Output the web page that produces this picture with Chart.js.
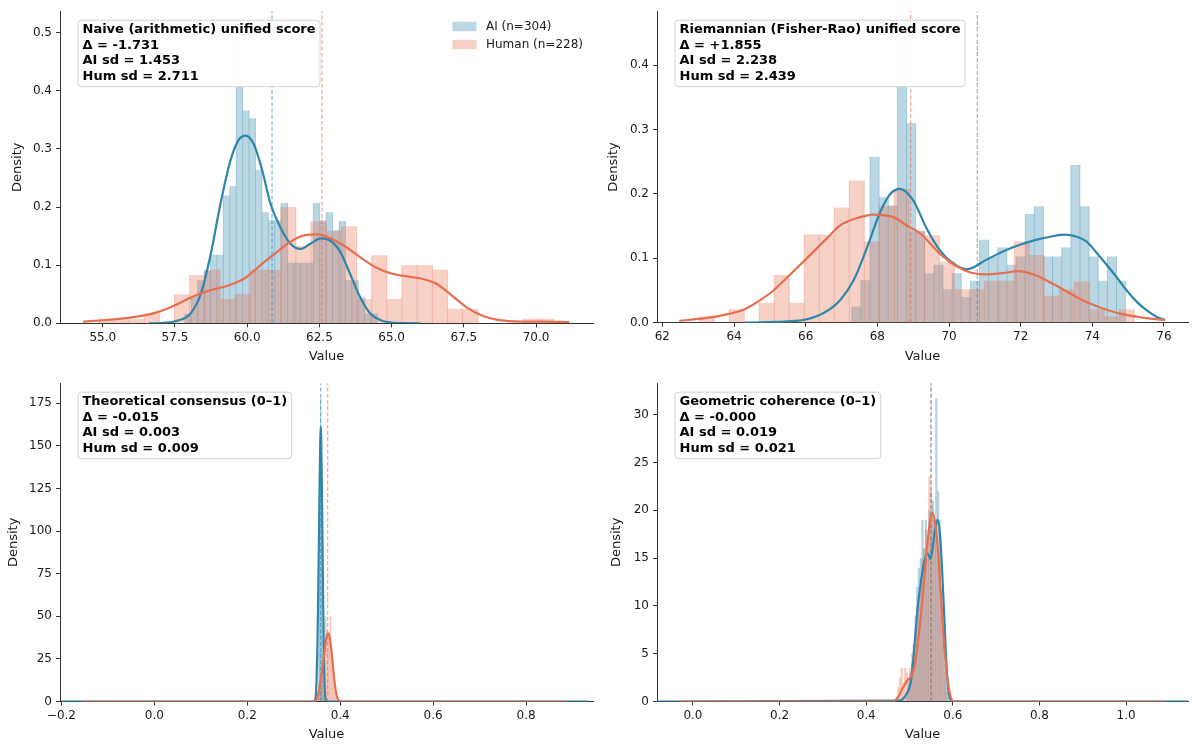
<!DOCTYPE html>
<html>
<head>
<meta charset="utf-8">
<script src="https://cdn.jsdelivr.net/npm/chart.js@4.4.1/dist/chart.umd.min.js"></script>
<style>
html,body{margin:0;padding:0;background:#fff;}
#wrap{position:relative;width:1192px;height:745px;overflow:hidden;}
.pane{position:absolute;}
</style>
</head>
<body>
<div id="wrap">
  <div class="pane" style="left:0;top:0;width:596px;height:372px"><canvas id="c1"></canvas></div>
  <div class="pane" style="left:596px;top:0;width:596px;height:372px"><canvas id="c2"></canvas></div>
  <div class="pane" style="left:0;top:372px;width:596px;height:373px"><canvas id="c3"></canvas></div>
  <div class="pane" style="left:596px;top:372px;width:596px;height:373px"><canvas id="c4"></canvas></div>
</div>
<script>
// ---------------- DATA ----------------
const legendLabels = ['AI (n=304)', 'Human (n=228)'];

// Panel 1: Naive (arithmetic) unified score
const p1Box = ['Naive (arithmetic) unified score', 'Δ = -1.731', 'AI sd = 1.453', 'Hum sd = 2.711'];
const p1AiBinStart = 57.84, p1AiBinWidth = 0.2224;
const p1AiHeights = [0.016,0.045,0.074,0.09,0.118,0.118,0.22,0.236,0.511,0.366,0.353,0.264,0.191,0.177,0.177,0.207,0.104,0.104,0.104,0.104,0.207,0.177,0.191,0.16,0.176,0.074,0.074,0.045,0.017,0.017];
const p1HumBinStart = 54.86, p1HumBinWidth = 0.525;
const p1HumHeights = [0.008,0.008,0.008,0.017,0,0.05,0.083,0.092,0.042,0.05,0.092,0.092,0.2,0.133,0.175,0.159,0.167,0.042,0.117,0.042,0.1,0.1,0.092,0.025,0.025,0,0,0,0.008,0.008];
const p1AiKdeX = [56.6,57.0,57.47,58.04,58.39,58.73,59.08,59.42,59.71,59.94,60.23,60.52,60.80,61.15,61.5,61.84,62.19,62.55,62.88,63.22,63.57,63.91,64.26,64.6,65.06,65.5,66.0];
const p1AiKdeY = [0,0.0005,0.003,0.017,0.05,0.117,0.207,0.28,0.316,0.323,0.308,0.263,0.207,0.165,0.137,0.128,0.137,0.146,0.142,0.123,0.084,0.045,0.017,0.0055,0.001,0.0002,0];
const p1HumKdeX = [54.32,55.42,56.48,57.01,57.54,58.07,58.60,59.40,59.93,60.46,60.99,61.52,62.05,62.45,62.84,63.37,63.90,64.43,64.96,65.49,66.02,66.55,67.08,67.61,68.14,68.67,69.47,70.26,71.15];
const p1HumKdeY = [0.003,0.007,0.014,0.021,0.032,0.045,0.055,0.066,0.078,0.1,0.121,0.141,0.152,0.153,0.147,0.133,0.114,0.097,0.086,0.081,0.077,0.068,0.048,0.027,0.013,0.006,0.003,0.003,0.002];
const p1Means = [60.86, 62.59];
const p1XRange = [53.52, 71.97], p1YMax = 0.537;

// Panel 2: Riemannian (Fisher-Rao) unified score
const p2Box = ['Riemannian (Fisher-Rao) unified score', 'Δ = +1.855', 'AI sd = 2.238', 'Hum sd = 2.439'];
const p2AiBinStart = 67.285, p2AiBinWidth = 0.2548;
const p2AiHeights = [0.025,0.066,0.258,0.195,0.182,0.461,0.31,0.142,0.077,0.09,0.052,0.077,0.04,0.065,0.129,0.103,0.117,0.09,0.103,0.169,0.181,0.103,0.103,0.117,0.245,0.181,0.103,0.065,0.103,0.065];
const p2HumBinStart = 63.03, p2HumBinWidth = 0.4186;
const p2HumHeights = [0.010,0,0.021,0,0.031,0.074,0.031,0.137,0.137,0.179,0.221,0.126,0.181,0.208,0.143,0.136,0.095,0.052,0.052,0.065,0.065,0.126,0.105,0.042,0.052,0.064,0.021,0.010,0.021,0];
const p2AiKdeX = [64.3,65.0,65.5,66.0,66.5,66.96,67.33,67.7,68.08,68.36,68.63,69.0,69.38,69.75,70.1,70.5,71.05,71.52,71.98,72.45,72.85,73.24,73.55,73.84,74.1,74.4,74.7,74.96,75.25,75.52,75.8,76.03];
const p2AiKdeY = [0,0.001,0.002,0.005,0.015,0.035,0.065,0.115,0.172,0.2,0.208,0.19,0.146,0.112,0.093,0.083,0.098,0.111,0.121,0.129,0.134,0.137,0.134,0.126,0.11,0.09,0.069,0.05,0.032,0.019,0.009,0.004];
const p2HumKdeX = [62.47,63.2,63.8,64.3,64.73,65.1,65.66,66.03,66.59,66.96,67.52,67.89,68.45,68.82,69.19,69.75,70.2,70.6,71.0,71.5,71.94,72.4,72.91,73.4,73.84,74.3,74.77,75.4,76.03];
const p2HumKdeY = [0.003,0.007,0.013,0.021,0.035,0.05,0.08,0.1,0.131,0.151,0.164,0.168,0.164,0.151,0.139,0.107,0.088,0.078,0.075,0.077,0.080,0.074,0.06,0.045,0.032,0.022,0.014,0.008,0.004];
const p2Means = [70.79, 68.93];
const p2XRange = [61.85, 76.67], p2YMax = 0.484;

// Panel 3: Theoretical consensus (0–1)
const p3Box = ['Theoretical consensus (0–1)', 'Δ = -0.015', 'AI sd = 0.003', 'Hum sd = 0.009'];
const p3AiBinStart = 0.352, p3AiBinWidth = 0.0013;
const p3AiHeights = [6,30,85,150,178,160,110,50,15,4];
const p3HumBinStart = 0.350, p3HumBinWidth = 0.0025;
const p3HumHeights = [2,4,7,12,18,25,32,50,42,40,38,50,30,20,12,6,3,1];
const p3AiKdeX = [-0.2,0.343,0.347,0.349,0.351,0.3525,0.354,0.3555,0.357,0.358,0.359,0.3605,0.362,0.3635,0.365,0.3665,0.368,0.370,0.935];
const p3AiKdeY = [0,0,2,12,33,60,90,125,152,161,155,128,90,55,25,9,2,0,0];
const p3HumKdeX = [-0.153,0.345,0.35,0.354,0.358,0.362,0.366,0.370,0.3745,0.379,0.384,0.388,0.392,0.396,0.400,0.884];
const p3HumKdeY = [0,0,2,6,13,20,29,37,40,35,22,11,4,1,0,0];
const p3Means = [0.358, 0.373];
const p3XRange = [-0.203, 0.944], p3YMax = 186.7;

// Panel 4: Geometric coherence (0–1)
const p4Box = ['Geometric coherence (0–1)', 'Δ = -0.000', 'AI sd = 0.019', 'Hum sd = 0.021'];
const p4AiBinStart = 0.492, p4AiBinWidth = 0.004;
const p4AiHeights = [1,2,3,4,6,9,12,14,15,19,16,19,15,20,19,21,17,31.7,22,19,12,8,4,2,0.5];
const p4HumBinStart = 0.468, p4HumBinWidth = 0.004;
const p4HumHeights = [0.5,1.5,2.5,3.5,2,3.5,3,2.5,3.5,5,6,7.5,10,10,13,15,16,18,17,23.5,22,20,19,17,16,17,10,6,3,1];
const p4AiKdeX = [-0.084,0.4766,0.492,0.5036,0.5112,0.5189,0.5266,0.5343,0.5420,0.548,0.5534,0.5596,0.565,0.5711,0.5765,0.582,0.5866,0.5919,0.5995,1.143];
const p4AiKdeY = [0,0.1,0.7,2.2,5.7,9.8,12.6,14.7,15.5,14.9,16.1,18.1,19.0,17.1,12.6,7.1,2.9,0.5,0,0];
const p4HumKdeX = [-0.033,0.461,0.4727,0.4842,0.4957,0.5036,0.5112,0.5189,0.5266,0.5343,0.542,0.5474,0.5534,0.5596,0.5658,0.5727,0.5804,0.588,0.5958,0.603,1.088];
const p4HumKdeY = [0,0,0.4,1.4,2.25,2.6,3.6,6.0,9.2,13.0,16.8,18.8,19.7,18.5,15.7,10.9,5.7,2.25,0.35,0,0];
const p4Means = [0.5497, 0.5499];
const p4XRange = [-0.083, 1.143], p4YMax = 33.3;

// ---------------- STYLE ----------------
const AI_LINE = '#2E86AB', HUM_LINE = '#E76F51';
const AI_FILL = 'rgba(46,134,171,0.33)', HUM_FILL = 'rgba(231,111,81,0.33)';
const AI_EDGE = 'rgba(46,134,171,0.38)', HUM_EDGE = 'rgba(231,111,81,0.38)';
const AI_MEAN = 'rgba(46,134,171,0.55)', HUM_MEAN = 'rgba(231,111,81,0.55)';

Chart.defaults.font.family = '"DejaVu Sans", sans-serif';
Chart.defaults.font.size = 12;
Chart.defaults.color = '#1a1a1a';

function histDataset(label, start, width, heights, fill, edge, order, edgeW) {
  const pts = [{x: start, y: 0}];
  heights.forEach((h, i) => pts.push({x: start + i * width, y: h}));
  pts.push({x: start + heights.length * width, y: 0});
  return { label, data: pts, stepped: 'before', fill: 'origin', backgroundColor: fill,
    borderColor: 'rgba(0,0,0,0)', borderWidth: 0, pointRadius: 0, order,
    histEdges: {start, width, heights, color: edge, lw: edgeW} };
}
function kdeDataset(label, xs, ys, color, order) {
  return { label, data: xs.map((x, i) => ({x, y: ys[i]})), borderColor: color, borderWidth: 2.2,
    pointRadius: 0, fill: false, cubicInterpolationMode: 'monotone', order };
}
function meanDataset(label, m, yTop, color, order) {
  return { label, data: [{x: m, y: 0}, {x: m, y: yTop}], borderColor: color, borderWidth: 1.3,
    borderDash: [4, 2.2], pointRadius: 0, fill: false, order };
}

const edgePlugin = {
  id: 'histEdges',
  afterDatasetDraw(chart, args) {
    const ds = chart.data.datasets[args.index];
    if (!ds.histEdges) return;
    const {start, width, heights, color, lw} = ds.histEdges;
    const xs = chart.scales.x, ys = chart.scales.y, ctx = chart.ctx;
    const ca = chart.chartArea;
    ctx.save();
    ctx.beginPath(); ctx.rect(ca.left, ca.top, ca.right - ca.left, ca.bottom - ca.top); ctx.clip();
    ctx.strokeStyle = color; ctx.lineWidth = lw;
    ctx.beginPath();
    for (let i = 0; i <= heights.length; i++) {
      const hl = i > 0 ? heights[i - 1] : 0, hr = i < heights.length ? heights[i] : 0;
      const h = Math.max(hl, hr);
      if (h <= 0) continue;
      const px = xs.getPixelForValue(start + i * width);
      ctx.moveTo(px, ys.getPixelForValue(0));
      ctx.lineTo(px, ys.getPixelForValue(h));
    }
    ctx.stroke();
    ctx.restore();
  }
};

const statBoxPlugin = {
  id: 'statBox',
  afterDraw(chart, args, opts) {
    if (!opts.lines) return;
    const ctx = chart.ctx, ca = chart.chartArea;
    ctx.save();
    ctx.font = 'bold 13px "DejaVu Sans"';
    const w = Math.max(...opts.lines.map(l => ctx.measureText(l).width));
    const x = ca.left + 18, y = ca.top + 9;
    const bw = w + 9, bh = 66.5, r = 3.5;
    ctx.beginPath();
    ctx.moveTo(x + r, y);
    ctx.lineTo(x + bw - r, y); ctx.quadraticCurveTo(x + bw, y, x + bw, y + r);
    ctx.lineTo(x + bw, y + bh - r); ctx.quadraticCurveTo(x + bw, y + bh, x + bw - r, y + bh);
    ctx.lineTo(x + r, y + bh); ctx.quadraticCurveTo(x, y + bh, x, y + bh - r);
    ctx.lineTo(x, y + r); ctx.quadraticCurveTo(x, y, x + r, y);
    ctx.closePath();
    ctx.fillStyle = 'rgba(255,255,255,0.97)'; ctx.fill();
    ctx.strokeStyle = '#d2d2d2'; ctx.lineWidth = 1; ctx.stroke();
    ctx.fillStyle = '#000'; ctx.textBaseline = 'middle'; ctx.textAlign = 'left';
    opts.lines.forEach((l, i) => ctx.fillText(l, x + 4.5, y + 9.5 + i * 15.5));
    ctx.restore();
  }
};

const legendPlugin = {
  id: 'miniLegend',
  afterDraw(chart, args, opts) {
    if (!opts.items) return;
    const ctx = chart.ctx, ca = chart.chartArea;
    ctx.save();
    ctx.font = '12px "DejaVu Sans"';
    const maxW = Math.max(...opts.items.map(it => ctx.measureText(it.label).width));
    const tx = ca.right - 10 - maxW;
    const px = tx - 9.6 - 24;
    opts.items.forEach((it, i) => {
      const cy = ca.top + 15.3 + i * 18;
      ctx.fillStyle = it.color; ctx.fillRect(px, cy - 4.7, 24, 9.4);
      ctx.fillStyle = '#1a1a1a'; ctx.textBaseline = 'middle'; ctx.textAlign = 'left';
      ctx.fillText(it.label, tx, cy);
    });
    ctx.restore();
  }
};

function axisCommon() {
  return {
    grid: {display: true, drawOnChartArea: false, drawTicks: true, tickLength: 4, tickColor: '#333', tickWidth: 1},
    border: {display: true, color: '#333', width: 1}
  };
}

function buildChart(id, cfg) {
  const xAx = Object.assign(axisCommon(), {
    type: 'linear', min: cfg.xRange[0], max: cfg.xRange[1],
    ticks: {stepSize: cfg.xStep, includeBounds: false, autoSkip: false, maxRotation: 0, minRotation: 0, padding: 3, callback: cfg.xFmt, font: {size: 12}},
    title: {display: true, text: 'Value', font: {size: 13}, padding: {top: 0, bottom: cfg.xTitlePad}},
    afterFit: s => { s.height = cfg.xHeight; }
  });
  const yAx = Object.assign(axisCommon(), {
    type: 'linear', min: 0, max: cfg.yMax,
    ticks: {stepSize: cfg.yStep, includeBounds: false, padding: 4, callback: cfg.yFmt, font: {size: 12}},
    title: {display: true, text: 'Density', font: {size: 13}, padding: {top: cfg.yTitlePad, bottom: 0}},
    afterFit: s => { s.width = cfg.yWidth; }
  });
  return new Chart(document.getElementById(id), {
    type: 'line',
    data: {datasets: cfg.datasets},
    options: {
      responsive: true, maintainAspectRatio: false, animation: false, devicePixelRatio: 1,
      events: [],
      layout: {padding: {top: cfg.padTop, right: cfg.padRight, left: 0, bottom: 0}},
      plugins: {
        legend: {display: false}, tooltip: {enabled: false},
        statBox: {lines: cfg.box},
        miniLegend: {items: cfg.legend || null}
      },
      scales: {x: xAx, y: yAx}
    },
    plugins: [edgePlugin, statBoxPlugin, legendPlugin]
  });
}

function panelDatasets(aiStart, aiW, aiH, humStart, humW, humH, aiKx, aiKy, humKx, humKy, means, yTop, edgeW) {
  return [
    histDataset(legendLabels[0], aiStart, aiW, aiH, AI_FILL, AI_EDGE, 10, edgeW),
    histDataset(legendLabels[1], humStart, humW, humH, HUM_FILL, HUM_EDGE, 9, edgeW),
    meanDataset('AI mean', means[0], yTop, AI_MEAN, 4),
    meanDataset('Human mean', means[1], yTop, HUM_MEAN, 3),
    kdeDataset('AI KDE', aiKx, aiKy, AI_LINE, 2),
    kdeDataset('Human KDE', humKx, humKy, HUM_LINE, 1)
  ];
}

const fmt1 = v => v.toFixed(1).replace('-', '\u2212');
const fmt0 = v => String(Math.round(v));

buildChart('c1', {
  datasets: panelDatasets(p1AiBinStart, p1AiBinWidth, p1AiHeights, p1HumBinStart, p1HumBinWidth, p1HumHeights,
    p1AiKdeX, p1AiKdeY, p1HumKdeX, p1HumKdeY, p1Means, p1YMax, 0.8),
  xRange: p1XRange, xStep: 2.5, xFmt: fmt1, yMax: p1YMax, yStep: 0.1, yFmt: fmt1,
  padTop: 3.5, padRight: 3, yWidth: 60, xHeight: 48.7, xTitlePad: 7.5, yTitlePad: 9.7,
  box: p1Box,
  legend: [{label: legendLabels[0], color: AI_FILL}, {label: legendLabels[1], color: HUM_FILL}]
});
buildChart('c2', {
  datasets: panelDatasets(p2AiBinStart, p2AiBinWidth, p2AiHeights, p2HumBinStart, p2HumBinWidth, p2HumHeights,
    p2AiKdeX, p2AiKdeY, p2HumKdeX, p2HumKdeY, p2Means, p2YMax, 0.8),
  xRange: p2XRange, xStep: 2, xFmt: fmt0, yMax: p2YMax, yStep: 0.1, yFmt: fmt1,
  padTop: 3.5, padRight: 4, yWidth: 61, xHeight: 49.3, xTitlePad: 7.5, yTitlePad: 10.2,
  box: p2Box
});
buildChart('c3', {
  datasets: panelDatasets(p3AiBinStart, p3AiBinWidth, p3AiHeights, p3HumBinStart, p3HumBinWidth, p3HumHeights,
    p3AiKdeX, p3AiKdeY, p3HumKdeX, p3HumKdeY, p3Means, p3YMax, 0.4),
  xRange: p3XRange, xStep: 0.2, xFmt: fmt1, yMax: p3YMax, yStep: 25, yFmt: fmt0,
  padTop: 8.7, padRight: 3, yWidth: 60, xHeight: 43.5, xTitlePad: 2.9, yTitlePad: 5.5,
  box: p3Box
});
buildChart('c4', {
  datasets: panelDatasets(p4AiBinStart, p4AiBinWidth, p4AiHeights, p4HumBinStart, p4HumBinWidth, p4HumHeights,
    p4AiKdeX, p4AiKdeY, p4HumKdeX, p4HumKdeY, p4Means, p4YMax, 0.4),
  xRange: p4XRange, xStep: 0.2, xFmt: fmt1, yMax: p4YMax, yStep: 5, yFmt: fmt0,
  padTop: 8.7, padRight: 4, yWidth: 61, xHeight: 43.5, xTitlePad: 2.9, yTitlePad: 13.2,
  box: p4Box
});
</script>
</body>
</html>
